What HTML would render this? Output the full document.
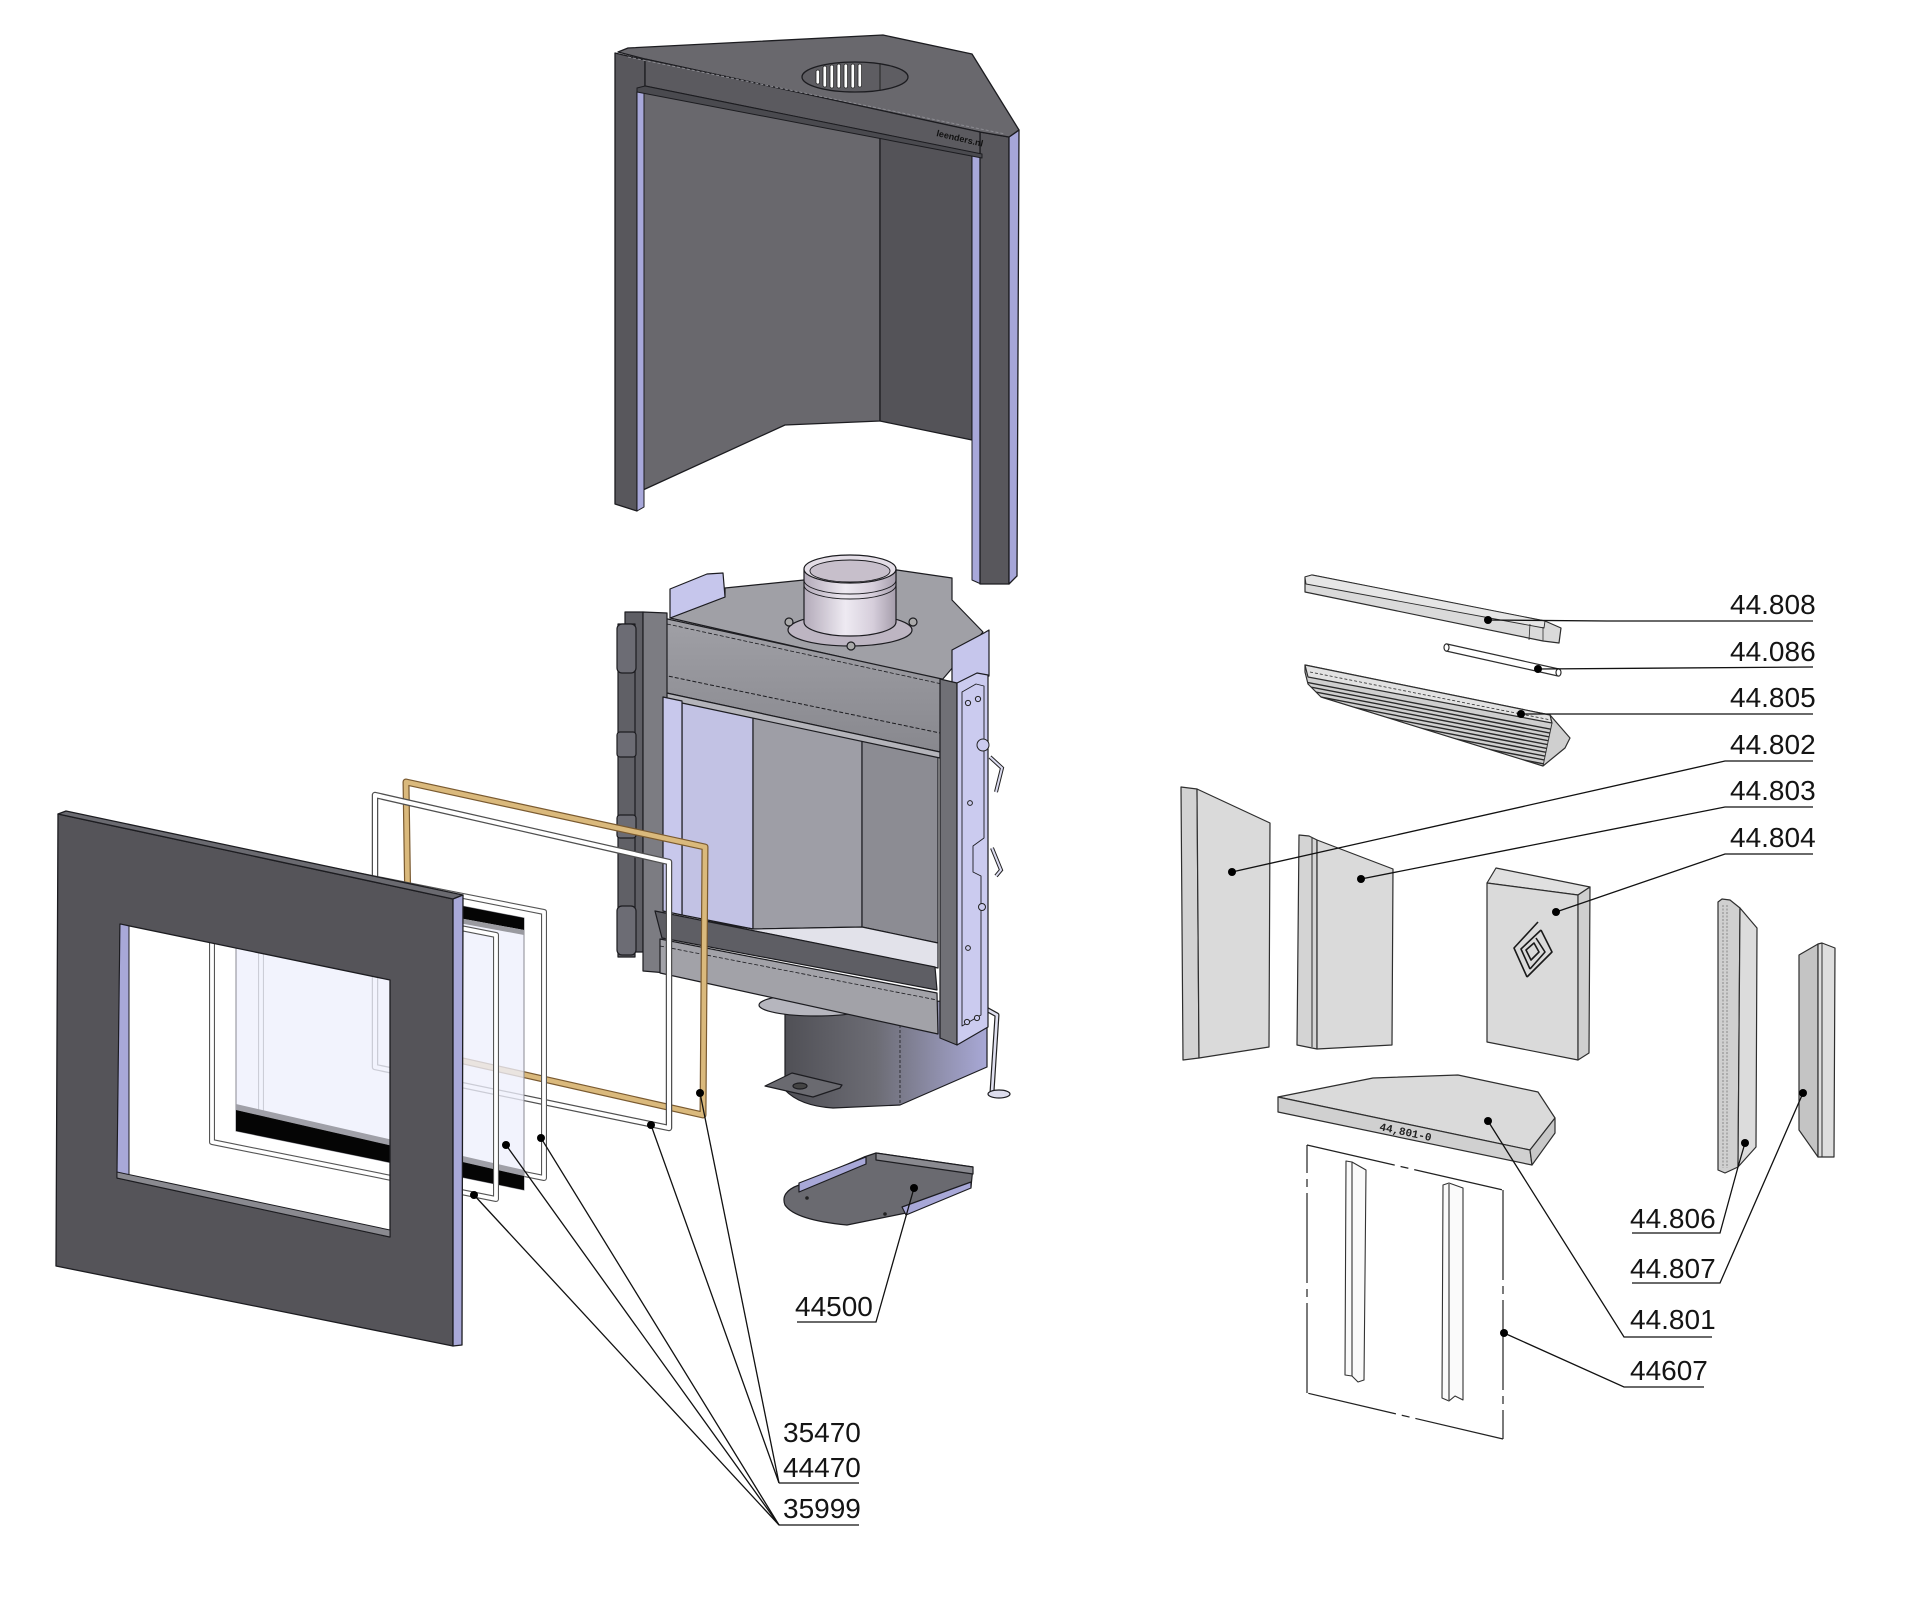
<!DOCTYPE html>
<html><head><meta charset="utf-8">
<style>
html,body{margin:0;padding:0;background:#fff;}
svg{display:block;}
.lbl{font-family:"Liberation Sans",sans-serif;font-size:28px;fill:#141414;}
</style></head>
<body>
<svg width="1920" height="1606" viewBox="0 0 1920 1606" xmlns="http://www.w3.org/2000/svg">
<defs>
  <linearGradient id="gCol" x1="0" x2="1" y1="0" y2="0">
    <stop offset="0" stop-color="#b3aab9"/><stop offset="0.45" stop-color="#eeeaf2"/>
    <stop offset="0.75" stop-color="#d6cedb"/><stop offset="1" stop-color="#a59dab"/>
  </linearGradient>
  <linearGradient id="gCyl" x1="0" x2="1" y1="0" y2="0">
    <stop offset="0" stop-color="#505056"/><stop offset="0.45" stop-color="#6c6c74"/>
    <stop offset="0.75" stop-color="#8e8eaa"/><stop offset="1" stop-color="#a8a8d6"/>
  </linearGradient>
  <linearGradient id="gFront" x1="0" x2="0" y1="0" y2="1">
    <stop offset="0" stop-color="#a0a0a6"/><stop offset="1" stop-color="#88888e"/>
  </linearGradient>
  <clipPath id="ribClip">
    <polygon points="1308,677 1552,723 1543,766 1321,697 1308,684"/>
  </clipPath>
</defs>

<rect x="0" y="0" width="1920" height="1606" fill="#fff"/>

<!-- ================= HOOD ================= -->
<g stroke="#1c1c20" stroke-width="1.3" stroke-linejoin="round">
  <polygon points="643,91 880,137 880,421 785,425 643,490" fill="#69686d"/>
  <polygon points="880,137 972,155 972,440 880,421" fill="#545358"/>
  <line x1="880" y1="137" x2="880" y2="421" stroke-width="1"/>
  <polygon points="615,53 645,60 645,90 637,92 637,511 615,504" fill="#58575c"/>
  <polygon points="637,92 644,91 644,507 637,511" fill="#a8a8da" stroke-width="1"/>
  <polygon points="972,153 981,155 981,584 972,580" fill="#a8a8da" stroke-width="1"/>
  <polygon points="980,132 1009,137 1009,584 980,584" fill="#58575c"/>
  <polygon points="1009,137 1019,130 1017,576 1009,584" fill="#a6a6d8"/>
  <polygon points="618,52 628,48 883,35 972,54 1019,130 1009,137 980,132 645,59" fill="#69686d"/>
  <polygon points="645,59 980,132 980,154 645,86" fill="#5b5a5f"/>
  <polygon points="637,88 645,86 982,154 982,158 637,92" fill="#4a4a4f" stroke-width="1"/>
  <line x1="628" y1="57" x2="1005" y2="134" stroke="#8a8a90" stroke-width="1" stroke-dasharray="3 2"/>
  <ellipse cx="855" cy="77" rx="53" ry="15" fill="#5e5d62"/>
</g>
<g fill="#fff" stroke="#222" stroke-width="0.8">
  <rect x="816" y="70" width="3.6" height="14" rx="1.8"/>
  <rect x="823" y="66" width="3.6" height="21" rx="1.8"/>
  <rect x="830" y="65" width="3.6" height="23" rx="1.8"/>
  <rect x="837" y="64" width="3.6" height="24" rx="1.8"/>
  <rect x="844" y="64" width="3.6" height="24" rx="1.8"/>
  <rect x="851" y="64" width="3.6" height="24" rx="1.8"/>
  <rect x="858" y="64" width="3.6" height="23" rx="1.8"/>
</g>
<line x1="880" y1="63" x2="880" y2="91" stroke="#222" stroke-width="1"/>
<text x="936" y="136" transform="rotate(13 936 136)" font-family="Liberation Sans, sans-serif" font-size="9" font-weight="bold" fill="#111">leenders.nl</text>

<!-- ================= FIREBOX ================= -->
<g stroke="#1c1c20" stroke-width="1.2" stroke-linejoin="round">
  <path d="M785,1005 L785,1090 Q800,1106 833,1108 L900,1105 L987,1067 L987,1000 Z" fill="url(#gCyl)"/>
  <line x1="900" y1="1010" x2="900" y2="1105" stroke-width="0.8" stroke-dasharray="3 2"/>
  <ellipse cx="816" cy="1005" rx="57" ry="11" fill="#b6b6be"/>
  <polygon points="765,1086 792,1073 842,1085 840,1088 813,1097" fill="#6a6a70"/>
  <ellipse cx="800" cy="1086" rx="7" ry="3" fill="#444"/>
  <path d="M977,1004 L997,1015 L992,1092" fill="none" stroke="#222" stroke-width="5"/>
  <path d="M977,1004 L997,1015 L992,1092" fill="none" stroke="#e0e0f0" stroke-width="2.6"/>
  <ellipse cx="999" cy="1094" rx="11" ry="4" fill="#dcdcec"/>

  <polygon points="670,618 725,597 725,588 804,580 897,570 952,578 952,600 983,632 942,680" fill="#a0a0a6"/>
  <polygon points="670,589 707,574 723,573 725,597 670,618" fill="#c6c6ec"/>
  <polygon points="952,650 984,633 989,630 989,676 957,684 952,682" fill="#c6c6ec"/>
  <ellipse cx="850" cy="630" rx="62" ry="16" fill="#bdb5c2"/>
  <circle cx="789" cy="622" r="4" fill="#aaa"/><circle cx="913" cy="622" r="4" fill="#aaa"/><circle cx="851" cy="646" r="4" fill="#aaa"/>
  <path d="M804,569 L804,622 A46,14 0 0 0 896,622 L896,569 Z" fill="url(#gCol)"/>
  <path d="M804,580 A46,14 0 0 0 896,580" fill="none" stroke-width="0.9"/>
  <path d="M804,585 A46,14 0 0 0 896,585" fill="none" stroke-width="0.9"/>
  <ellipse cx="850" cy="569" rx="46" ry="14" fill="#e3dde6"/>
  <ellipse cx="850" cy="571" rx="40" ry="11" fill="#c7bfcb" stroke-width="0.9"/>
  <polygon points="663,618 942,679 940,752 662,692" fill="url(#gFront)"/>
  <line x1="663" y1="675" x2="940" y2="733" stroke-width="1" stroke-dasharray="4 2"/>
  <line x1="667" y1="624" x2="942" y2="684" stroke-width="0.8" stroke-dasharray="4 2"/>
  <polygon points="682,701 753,716 753,929 682,915" fill="#c2c2e4"/>
  <polygon points="753,716 862,740 862,927 753,929" fill="#9e9ea6"/>
  <polygon points="862,740 938,756 938,943 862,927" fill="#8c8c93"/>
  <polygon points="700,920 753,929 862,927 938,943 938,968" fill="#e2e2ea"/>
  <polygon points="662,692 940,752 940,758 682,703 662,698" fill="#b4b4ba"/>
  <rect x="625" y="612" width="18" height="340" fill="#5e5e64"/>
  <polygon points="643,612 667,613 667,973 643,971" fill="#7c7c82"/>
  <polygon points="663,697 682,701 682,915 663,911" fill="#c8c8ec"/>
  <polygon points="655,911 935,967 937,990 662,938" fill="#5e5e64"/>
  <polygon points="660,939 937,993 938,1034 660,973" fill="#a2a2a8"/>
  <line x1="660" y1="946" x2="937" y2="1000" stroke-width="0.8" stroke-dasharray="4 2"/>
  <polygon points="940,679 957,683 957,1045 940,1038" fill="#707076"/>
  <polygon points="957,683 977,673 988,675 988,1027 957,1045" fill="#cbcbef"/>
  <path d="M962,692 L976,684 L984,686 L984,838 L973,846 L973,872 L981,876 L981,1015 L962,1026 Z" fill="none" stroke-width="0.9"/>
  <rect x="618" y="624" width="17" height="333" fill="#606066"/>
  <rect x="617" y="624" width="19" height="49" rx="5" fill="#6c6c74"/>
  <rect x="617" y="732" width="19" height="25" rx="3" fill="#6c6c74"/>
  <rect x="617" y="815" width="19" height="23" rx="3" fill="#6c6c74"/>
  <rect x="617" y="906" width="19" height="49" rx="5" fill="#6c6c74"/>
</g>
<g fill="#cbcbef" stroke="#222" stroke-width="1">
  <circle cx="968" cy="703" r="2.6"/><circle cx="978" cy="699" r="2.6"/>
  <circle cx="983" cy="745" r="6"/><circle cx="970" cy="803" r="2.4"/>
  <circle cx="968" cy="948" r="2.4"/><circle cx="967" cy="1022" r="2.6"/><circle cx="977" cy="1018" r="2.6"/>
  <circle cx="982" cy="907" r="3.5"/>
</g>
<path d="M990,757 L1002,768 L996,792" fill="none" stroke="#222" stroke-width="4"/>
<path d="M990,757 L1002,768 L996,792" fill="none" stroke="#dcdcf0" stroke-width="2"/>
<path d="M992,848 L1001,870 L996,876" fill="none" stroke="#222" stroke-width="4"/>
<path d="M992,848 L1001,870 L996,876" fill="none" stroke="#dcdcf0" stroke-width="2"/>

<!-- ================= GASKETS / GLASS / FRAME ================= -->
<path d="M410,1049 L406,782 L705,847 L703,1115 Z" fill="none" stroke="#7a5a30" stroke-width="7" stroke-linejoin="round"/>
<path d="M410,1049 L406,782 L705,847 L703,1115 Z" fill="none" stroke="#dab97c" stroke-width="4.6" stroke-linejoin="round"/>
<path d="M375,1067 L375,795 L669,862 L669,1128 Z" fill="none" stroke="#505050" stroke-width="6.5" stroke-linejoin="round"/>
<path d="M375,1067 L375,795 L669,862 L669,1128 Z" fill="none" stroke="#fff" stroke-width="4" stroke-linejoin="round"/>
<path d="M261,1121 L261,856 L544,912 L544,1178 Z" fill="none" stroke="#555" stroke-width="6" stroke-linejoin="round"/>
<path d="M261,1121 L261,856 L544,912 L544,1178 Z" fill="none" stroke="#fff" stroke-width="3.8" stroke-linejoin="round"/>
<polygon points="236,862 524,918 524,1190 236,1131" fill="#eef0fc" fill-opacity="0.78" stroke="#8a8a92" stroke-width="1"/>
<polygon points="236,862 524,918 524,930 236,877" fill="#050505"/>
<polygon points="236,877 524,930 524,935 236,882" fill="#9a9aa0"/>
<polygon points="236,1104 524,1170 524,1176 236,1110" fill="#a0a0a8"/>
<polygon points="236,1110 524,1176 524,1190 236,1131" fill="#050505"/>
<path d="M212,1142 L212,879 L496,935 L496,1199 Z" fill="none" stroke="#555" stroke-width="6" stroke-linejoin="round"/>
<path d="M212,1142 L212,879 L496,935 L496,1199 Z" fill="none" stroke="#fff" stroke-width="3.8" stroke-linejoin="round"/>

<g stroke="#1c1c20" stroke-width="1.3" stroke-linejoin="round">
  <path fill-rule="evenodd" fill="#555459" d="M58,814 L453,899 L453,1346 L56,1266 Z M120,924 L117,1178 L390,1237 L390,980 Z"/>
  <polygon points="58,814 66,811 463,895 453,899" fill="#6a6a70"/>
  <polygon points="453,899 463,895 462,1345 453,1346" fill="#a8a8d8"/>
  <polygon points="120,924 129,926 129,1180 117,1178" fill="#a8a8d8" stroke-width="1"/>
  <polygon points="117,1172 390,1230 390,1237 117,1178" fill="#8a8a90" stroke-width="1"/>
</g>

<!-- ================= ASH PAN 44500 ================= -->
<g stroke="#1c1c20" stroke-width="1.2" stroke-linejoin="round">
  <path d="M799,1185 Q780,1192 785,1205 Q795,1220 847,1225 L906,1213 L971,1187 L973,1167 L876,1153 L864,1157 Z" fill="#6a6a70"/>
  <polygon points="876,1153 973,1167 973,1174 876,1160" fill="#8a8a90"/>
  <polygon points="799,1183 866,1157 866,1164 799,1192" fill="#a8a8d8"/>
  <polygon points="902,1207 971,1182 971,1188 906,1215" fill="#a8a8d8"/>
</g>
<circle cx="807" cy="1198" r="1.8" fill="#222"/><circle cx="885" cy="1214" r="1.8" fill="#222"/>

<!-- ================= RIGHT BRICKS ================= -->
<g stroke="#2e2e2e" stroke-width="1.2" stroke-linejoin="round">
  <polygon points="1305,577 1312,575 1545,621 1561,628 1559,643 1543,641 1305,592" fill="#dadada"/>
  <polygon points="1305,577 1312,575 1545,621 1544,628 1306,584" fill="#e6e6e6" stroke-width="0.9"/>
  <line x1="1530" y1="624" x2="1529" y2="640" stroke-width="0.8"/>
  <line x1="1543" y1="627" x2="1543" y2="641" stroke-width="0.8"/>
  <polygon points="1447,644 1559,669 1558,676 1446,651" fill="#fff"/>
  <ellipse cx="1446.5" cy="647.5" rx="2.5" ry="3.6" fill="#fff"/>
  <ellipse cx="1558.5" cy="672.5" rx="2.5" ry="3.6" fill="#fff"/>
  <polygon points="1305,665 1550,715 1570,738 1565,748 1543,766 1321,697 1308,684 1305,672" fill="#cfcfcf"/>
  <polygon points="1305,665 1550,715 1552,723 1308,677" fill="#e2e2e2"/>
  <line x1="1552" y1="723" x2="1543" y2="766" stroke-width="0.9"/>
  <line x1="1310" y1="672" x2="1551" y2="720" stroke-width="0.8" stroke-dasharray="3 2"/>
</g>
<g clip-path="url(#ribClip)" stroke="#2a2a2a" stroke-width="1.4">
  <line x1="1300" y1="681" x2="1560" y2="731"/><line x1="1300" y1="685" x2="1560" y2="735"/>
  <line x1="1300" y1="689" x2="1560" y2="739"/><line x1="1300" y1="693" x2="1560" y2="743"/>
  <line x1="1300" y1="697" x2="1560" y2="747"/><line x1="1300" y1="701" x2="1560" y2="751"/>
  <line x1="1300" y1="705" x2="1560" y2="755"/><line x1="1300" y1="709" x2="1560" y2="759"/>
  <line x1="1300" y1="713" x2="1560" y2="763"/><line x1="1300" y1="717" x2="1560" y2="767"/>
</g>
<g stroke="#2e2e2e" stroke-width="1.2" stroke-linejoin="round">
  <polygon points="1181,787 1197,789 1199,1058 1183,1060" fill="#d2d2d2"/>
  <polygon points="1197,789 1270,823 1269,1047 1199,1058" fill="#dadada"/>
  <polygon points="1299,835 1309,836 1317,840 1317,1049 1297,1045" fill="#d4d4d4"/>
  <line x1="1312" y1="838" x2="1312" y2="1047" stroke-width="1"/>
  <polygon points="1317,840 1393,869 1392,1045 1317,1049" fill="#dadada"/>
  <polygon points="1487,883 1496,868 1590,887 1578,895" fill="#e0e0e0"/>
  <polygon points="1487,883 1578,895 1578,1060 1487,1042" fill="#dadada"/>
  <polygon points="1578,895 1590,887 1589,1053 1578,1060" fill="#cfcfcf"/>
  <path d="M1538,922 L1514,948 L1527,977 M1541,930 L1521,949 L1530,969 M1527,977 L1552,952 L1541,930 M1530,969 L1545,952 L1536,938 M1526,950 L1534,943 L1539,952 L1531,960 Z" fill="none" stroke="#1a1a1a" stroke-width="1.6"/>
  <polygon points="1718,902 1722,899 1730,900 1740,908 1738,1167 1725,1173 1718,1170" fill="#d0d0d0"/>
  <polygon points="1740,908 1757,928 1756,1147 1738,1167" fill="#dcdcdc"/>
  <line x1="1723" y1="905" x2="1723" y2="1168" stroke="#888" stroke-width="1" stroke-dasharray="2 1.5"/>
  <line x1="1727" y1="905" x2="1727" y2="1168" stroke="#888" stroke-width="1" stroke-dasharray="2 1.5"/>
  <polygon points="1799,955 1818,944 1818,1157 1799,1130" fill="#c4c4c4"/>
  <polygon points="1818,944 1822,943 1835,948 1834,1157 1818,1157" fill="#dedede"/>
  <line x1="1822" y1="943" x2="1822" y2="1157" stroke-width="1"/>
  <polygon points="1278,1097 1373,1078 1458,1075 1538,1092 1555,1118 1530,1150" fill="#dadada"/>
  <polygon points="1278,1097 1530,1150 1532,1165 1278,1112" fill="#d0d0d0"/>
  <polygon points="1530,1150 1555,1118 1555,1133 1532,1165" fill="#c8c8c8"/>
</g>
<text x="1379" y="1130" transform="rotate(12 1379 1130)" font-family="Liberation Mono, monospace" font-size="11" font-weight="bold" fill="#222">44,801-0</text>

<g stroke="#222" stroke-width="1.2" fill="none" stroke-dasharray="90 6 8 6">
  <line x1="1307" y1="1145" x2="1503" y2="1190"/>
  <line x1="1503" y1="1190" x2="1503" y2="1439"/>
  <line x1="1503" y1="1439" x2="1307" y2="1393"/>
  <line x1="1307" y1="1393" x2="1307" y2="1145"/>
</g>
<g stroke="#333" stroke-width="1.1" fill="#fafafa" stroke-linejoin="round">
  <polygon points="1346,1161 1352,1162 1366,1170 1364,1380 1358,1382 1352,1376 1345,1375"/>
  <line x1="1352" y1="1162" x2="1352" y2="1376"/>
  <polygon points="1443,1185 1449,1183 1463,1188 1463,1400 1455,1396 1449,1401 1442,1398"/>
  <line x1="1449" y1="1184" x2="1449" y2="1400"/>
</g>

<!-- ================= LEADERS ================= -->
<g stroke="#111" stroke-width="1.3" fill="none">
  <polyline points="1488,620 1607,621 1813,621"/>
  <polyline points="1538,669 1813,667"/>
  <polyline points="1521,714 1813,714"/>
  <polyline points="1232,872 1725,761 1813,761"/>
  <polyline points="1361,879 1725,807 1813,807"/>
  <polyline points="1556,912 1725,854 1813,854"/>
  <polyline points="1745,1143 1738,1167 1720,1233 1632,1233"/>
  <polyline points="1803,1093 1720,1283 1632,1283"/>
  <polyline points="1488,1121 1624,1337 1712,1337"/>
  <polyline points="1504,1333 1624,1387 1704,1387"/>
  <polyline points="914,1188 876,1322 797,1322"/>
  <line x1="700" y1="1093" x2="779" y2="1483"/>
  <line x1="651" y1="1125" x2="779" y2="1483"/>
  <line x1="541" y1="1138" x2="779" y2="1525"/>
  <line x1="506" y1="1145" x2="779" y2="1525"/>
  <line x1="474" y1="1195" x2="779" y2="1525"/>
  <line x1="779" y1="1483" x2="859" y2="1483"/>
  <line x1="779" y1="1525" x2="859" y2="1525"/>
</g>
<g fill="#000">
  <circle cx="1488" cy="620" r="4"/><circle cx="1538" cy="669" r="4"/><circle cx="1521" cy="714" r="4"/>
  <circle cx="1232" cy="872" r="4"/><circle cx="1361" cy="879" r="4"/><circle cx="1556" cy="912" r="4"/>
  <circle cx="1745" cy="1143" r="4"/><circle cx="1803" cy="1093" r="4"/><circle cx="1488" cy="1121" r="4"/>
  <circle cx="1504" cy="1333" r="4"/><circle cx="914" cy="1188" r="4"/>
  <circle cx="700" cy="1093" r="4"/><circle cx="651" cy="1125" r="4"/><circle cx="541" cy="1138" r="4"/>
  <circle cx="506" cy="1145" r="4"/><circle cx="474" cy="1195" r="4"/>
</g>

<!-- ================= LABELS ================= -->
<text class="lbl" x="1730" y="614">44.808</text>
<text class="lbl" x="1730" y="661">44.086</text>
<text class="lbl" x="1730" y="707">44.805</text>
<text class="lbl" x="1730" y="754">44.802</text>
<text class="lbl" x="1730" y="800">44.803</text>
<text class="lbl" x="1730" y="847">44.804</text>
<text class="lbl" x="1630" y="1228">44.806</text>
<text class="lbl" x="1630" y="1278">44.807</text>
<text class="lbl" x="1630" y="1329">44.801</text>
<text class="lbl" x="1630" y="1380">44607</text>
<text class="lbl" x="795" y="1316">44500</text>
<text class="lbl" x="783" y="1442">35470</text>
<text class="lbl" x="783" y="1477">44470</text>
<text class="lbl" x="783" y="1518">35999</text>
</svg>
</body></html>
